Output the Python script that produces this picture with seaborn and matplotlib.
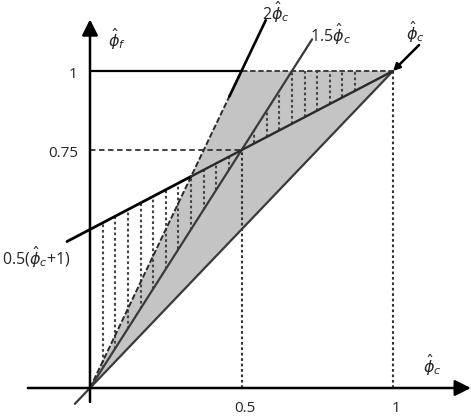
import numpy as np
import pandas as pd
import matplotlib
matplotlib.use("Agg")
import matplotlib.pyplot as plt
import seaborn as sns
from matplotlib.patches import Polygon

sns.set_theme(style="white")
plt.rcParams['font.family'] = ['Open Sans', 'DejaVu Sans']
plt.rcParams['mathtext.fontset'] = 'dejavusans'

# ---- data ----
# bounded region (shaded) vertices
shade_x = [0.0, 0.5, 1.0]
shade_y = [0.0, 1.0, 1.0]
# reference lines (endpoints)
line_c_x = [-0.05, 1.0]          # phi_f = phi_c
line_c_y = [-0.05, 1.0]
line_15_x = [0.0, 0.733]         # phi_f = 1.5 phi_c
line_15_y = [0.0, 1.10]
line_2_x = [0.46, 0.58]          # phi_f = 2 phi_c (solid part)
line_2_y = [0.92, 1.16]
line_half_x = [-0.076, 0.333, 1.0]   # phi_f = 0.5(phi_c + 1)
line_half_y = [0.462, 0.667, 1.0]
top_x = [0.0, 0.5]
top_y = [1.0, 1.0]
# hatch positions
hatch_x = [0.042, 0.083, 0.125, 0.167, 0.208, 0.25, 0.292, 0.333, 0.375, 0.417, 0.458,
           0.542, 0.583, 0.625, 0.667, 0.708, 0.75, 0.792, 0.833, 0.875]
# tick labels
xtick_vals = [0.5, 1.0]
xtick_labels = ["0.5", "1"]
ytick_vals = [0.75, 1.0]
ytick_labels = ["0.75", "1"]

W, H = 471, 417
fig = plt.figure(figsize=(W / 100, H / 100), dpi=100)
ax = fig.add_axes([0, 0, 1, 1])
x0, xs = 90, 303.0
y0, ys = 388, 317.0

dark = '#3a3a3a'
# shaded region
ax.add_patch(Polygon(list(zip(shade_x, shade_y)), closed=True, facecolor='#c4c4c4',
                     edgecolor='none', zorder=1))
# dashed edges of region
ax.plot([shade_x[0], shade_x[1]], [shade_y[0], shade_y[1]], color='#2a2a2a', lw=1.4,
        ls=(0, (3, 1.2)), zorder=3)
ax.plot([shade_x[1], shade_x[2]], [shade_y[1], shade_y[2]], color='#333333', lw=1.3,
        ls=(0, (3, 1.5)), zorder=3)

# hatches
hx = np.array(hatch_x)
lo = np.where(hx < 0.5, np.interp(hx, line_15_x, line_15_y), np.interp(hx, line_half_x, line_half_y))
hi = np.where(hx < 0.5, np.interp(hx, line_half_x, line_half_y),
              np.minimum(np.interp(hx, line_15_x, line_15_y), 1.0))
ax.vlines(hx, lo, hi, colors='#444444', linestyles=(0, (1.3, 1.3)), lw=1.5, zorder=2)

# guide lines
ax.plot([0, 0.5], [0.75, 0.75], color='#333333', lw=1.3, ls=(0, (3, 2)), zorder=2)
ax.vlines([0.5, 1.0], [0, 0], [0.75, 1.0], colors='#333333', linestyles=(0, (1.3, 1.3)),
          lw=1.5, zorder=2)

def seg(xv, yv, **kw):
    df = pd.DataFrame({'x': xv, 'y': yv})
    sns.lineplot(data=df, x='x', y='y', ax=ax, sort=False, estimator=None, **kw)

seg(top_x, top_y, color='black', lw=1.6, zorder=4)
seg(line_c_x, line_c_y, color=dark, lw=1.6, zorder=4)
seg(line_15_x, line_15_y, color=dark, lw=1.6, zorder=4)
seg(line_2_x, line_2_y, color='black', lw=1.9, zorder=4)
seg(line_half_x[:2], line_half_y[:2], color='black', lw=2.0, zorder=4)
seg(line_half_x[1:], line_half_y[1:], color='#2a2a2a', lw=1.7, zorder=4)
ax.set_xlim((0 - x0) / xs, (W - x0) / xs)
ax.set_ylim((y0 - H) / ys, y0 / ys)
ax.axis('off')

# leader arrow for phi_c label
ax.annotate('', xy=(1.0, 1.0), xytext=(1.086, 1.082),
            arrowprops=dict(arrowstyle='-|>', color='black', lw=1.8, mutation_scale=10,
                            shrinkA=0, shrinkB=0), zorder=5)

# axes with arrows
ax.annotate('', xy=(1.257, 0), xytext=(-0.205, 0),
            arrowprops=dict(arrowstyle='-|>', color='black', lw=1.8, mutation_scale=24,
                            shrinkA=0, shrinkB=0), zorder=5)
ax.annotate('', xy=(0, 1.163), xytext=(0, -0.044),
            arrowprops=dict(arrowstyle='-|>', color='black', lw=1.8, mutation_scale=24,
                            shrinkA=0, shrinkB=0), zorder=5)

fs = 11
for v, t in zip(xtick_vals, xtick_labels):
    ax.text(v + 0.01, -0.065, t, ha='center', va='center', fontsize=fs)
for v, t in zip(ytick_vals, ytick_labels):
    ax.text(-0.04, v - 0.01, t, ha='right', va='center', fontsize=fs)

fl = 11.5
ax.text(0.09, 1.1, r'$\hat{\phi}_f$', ha='center', va='center', fontsize=fl)
ax.text(1.13, 0.07, r'$\hat{\phi}_c$', ha='center', va='center', fontsize=fl)
ax.text(0.615, 1.185, r'2$\hat{\phi}_c$', ha='center', va='center', fontsize=fl)
ax.text(0.795, 1.115, r'1.5$\hat{\phi}_c$', ha='center', va='center', fontsize=fl)
ax.text(1.075, 1.12, r'$\hat{\phi}_c$', ha='center', va='center', fontsize=fl)
ax.text(-0.29, 0.413, r'0.5($\hat{\phi}_c$+1)', ha='left', va='center', fontsize=fl)

fig.savefig('out.png', dpi=100)
